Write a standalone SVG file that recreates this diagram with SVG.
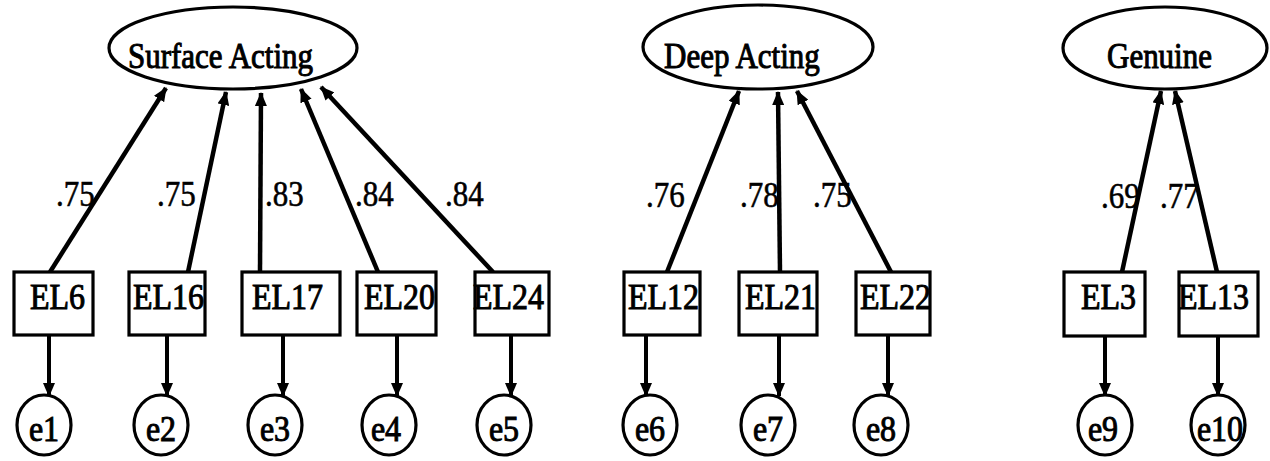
<svg xmlns="http://www.w3.org/2000/svg" width="1270" height="461" viewBox="0 0 1270 461">
<defs>
<marker id="ah" viewBox="0 0 14 12" refX="13" refY="6" markerWidth="14" markerHeight="12" markerUnits="userSpaceOnUse" orient="auto">
<path d="M0,0 L14,6 L0,12 z" fill="#000"/>
</marker>
<style>
text{font-family:"Liberation Serif","Times New Roman",serif;font-size:31px;fill:#000;stroke:#000;stroke-width:0.9}
.lat{fill:#fff;stroke:#000;stroke-width:3.2}
.obs{fill:#fff;stroke:#000;stroke-width:3.2}
.err{fill:#fff;stroke:#000;stroke-width:3.2}
.ld{stroke:#000;stroke-width:4.5;fill:none;marker-end:url(#ah)}
.er{stroke:#000;stroke-width:4;fill:none;marker-end:url(#ah)}
.lab{stroke-width:0.5}
.big{font-size:32px}
.mid{text-anchor:middle}
</style>
</defs>
<rect width="1270" height="461" fill="#fff"/>

<g id="latents">
<g id="surface"><ellipse class="lat" cx="233" cy="48" rx="124" ry="41"/><text transform="translate(128,68) scale(1,1.15)">Surface Acting</text></g>
<g id="deep"><ellipse class="lat" cx="758" cy="47" rx="115" ry="42"/><text transform="translate(664,68) scale(1,1.15)">Deep Acting</text></g>
<g id="genuine"><ellipse class="lat" cx="1165" cy="48" rx="102" ry="41"/><text transform="translate(1107,68) scale(1,1.15)">Genuine</text></g>
</g>

<g id="connectors">
<line class="ld" x1="50" y1="272" x2="166" y2="88"/>
<line class="ld" x1="188" y1="272" x2="226" y2="92"/>
<line class="ld" x1="260" y1="272" x2="261" y2="93"/>
<line class="ld" x1="378" y1="272" x2="301" y2="89"/>
<line class="ld" x1="493" y1="272" x2="321" y2="87"/>
<line class="ld" x1="667" y1="272" x2="739" y2="91"/>
<line class="ld" x1="780" y1="272" x2="778" y2="92"/>
<line class="ld" x1="891" y1="272" x2="797" y2="91"/>
<line class="ld" x1="1122" y1="272" x2="1161" y2="91"/>
<line class="ld" x1="1217" y1="272" x2="1175" y2="91"/>
<line class="er" x1="49" y1="335" x2="49" y2="396"/>
<line class="er" x1="167" y1="335" x2="167" y2="396"/>
<line class="er" x1="283" y1="335" x2="283" y2="396"/>
<line class="er" x1="397" y1="335" x2="397" y2="396"/>
<line class="er" x1="511" y1="335" x2="511" y2="396"/>
<line class="er" x1="646" y1="335" x2="646" y2="396"/>
<line class="er" x1="779" y1="335" x2="779" y2="396"/>
<line class="er" x1="888" y1="335" x2="888" y2="396"/>
<line class="er" x1="1105" y1="335" x2="1105" y2="396"/>
<line class="er" x1="1218" y1="335" x2="1218" y2="396"/>
</g>

<g id="loadings">
<text class="lab" transform="translate(56,206) scale(1,1.15)">.75</text>
<text class="lab" transform="translate(157,206) scale(1,1.15)">.75</text>
<text class="lab" transform="translate(265,206) scale(1,1.15)">.83</text>
<text class="lab" transform="translate(355,206) scale(1,1.15)">.84</text>
<text class="lab" transform="translate(445,206) scale(1,1.15)">.84</text>
<text class="lab" transform="translate(646,207) scale(1,1.15)">.76</text>
<text class="lab" transform="translate(740,207) scale(1,1.15)">.78</text>
<text class="lab" transform="translate(813,207) scale(1,1.15)">.75</text>
<text class="lab" transform="translate(1101,208) scale(1,1.15)">.69</text>
<text class="lab" transform="translate(1160,208) scale(1,1.15)">.77</text>
</g>

<g id="indicators">
<g id="EL6"><rect class="obs" x="14" y="272" width="79" height="63"/><text class="big" transform="translate(30,309) scale(1,1.12)">EL6</text></g>
<g id="EL16"><rect class="obs" x="129" y="272" width="76" height="63"/><text class="big" transform="translate(133,309) scale(1,1.12)">EL16</text></g>
<g id="EL17"><rect class="obs" x="242" y="272" width="98" height="63"/><text class="big" transform="translate(252,309) scale(1,1.12)">EL17</text></g>
<g id="EL20"><rect class="obs" x="357" y="272" width="79" height="63"/><text class="big" transform="translate(364,309) scale(1,1.12)">EL20</text></g>
<g id="EL24"><rect class="obs" x="475" y="272" width="74" height="63"/><text class="big" transform="translate(473,309) scale(1,1.12)">EL24</text></g>
<g id="EL12"><rect class="obs" x="624" y="272" width="76" height="63"/><text class="big" transform="translate(628,309) scale(1,1.12)">EL12</text></g>
<g id="EL21"><rect class="obs" x="739" y="272" width="78" height="63"/><text class="big" transform="translate(745,309) scale(1,1.12)">EL21</text></g>
<g id="EL22"><rect class="obs" x="856" y="272" width="74" height="63"/><text class="big" transform="translate(860,309) scale(1,1.12)">EL22</text></g>
<g id="EL3"><rect class="obs" x="1064" y="272" width="81" height="64"/><text class="big" transform="translate(1081,309) scale(1,1.12)">EL3</text></g>
<g id="EL13"><rect class="obs" x="1179" y="272" width="79" height="64"/><text class="big" transform="translate(1178,309) scale(1,1.12)">EL13</text></g>
</g>

<g id="errors">
<g id="e1"><ellipse class="err" cx="44" cy="425" rx="27" ry="30"/><text class="mid big" transform="translate(44,441) scale(1,1.12)">e1</text></g>
<g id="e2"><ellipse class="err" cx="161" cy="425" rx="27" ry="30"/><text class="mid big" transform="translate(161,441) scale(1,1.12)">e2</text></g>
<g id="e3"><ellipse class="err" cx="275" cy="425" rx="27" ry="30"/><text class="mid big" transform="translate(275,441) scale(1,1.12)">e3</text></g>
<g id="e4"><ellipse class="err" cx="389" cy="425" rx="27" ry="30"/><text class="mid big" transform="translate(386,441) scale(1,1.12)">e4</text></g>
<g id="e5"><ellipse class="err" cx="504" cy="425" rx="27" ry="30"/><text class="mid big" transform="translate(504,441) scale(1,1.12)">e5</text></g>
<g id="e6"><ellipse class="err" cx="650" cy="425" rx="27" ry="30"/><text class="mid big" transform="translate(650,441) scale(1,1.12)">e6</text></g>
<g id="e7"><ellipse class="err" cx="768" cy="425" rx="27" ry="30"/><text class="mid big" transform="translate(768,441) scale(1,1.12)">e7</text></g>
<g id="e8"><ellipse class="err" cx="881" cy="425" rx="27" ry="30"/><text class="mid big" transform="translate(881,441) scale(1,1.12)">e8</text></g>
<g id="e9"><ellipse class="err" cx="1105" cy="425" rx="27" ry="30"/><text class="mid big" transform="translate(1103,441) scale(1,1.12)">e9</text></g>
<g id="e10"><ellipse class="err" cx="1218" cy="425" rx="27" ry="30"/><text class="mid big" transform="translate(1220,441) scale(1,1.12)">e10</text></g>
</g>
</svg>
